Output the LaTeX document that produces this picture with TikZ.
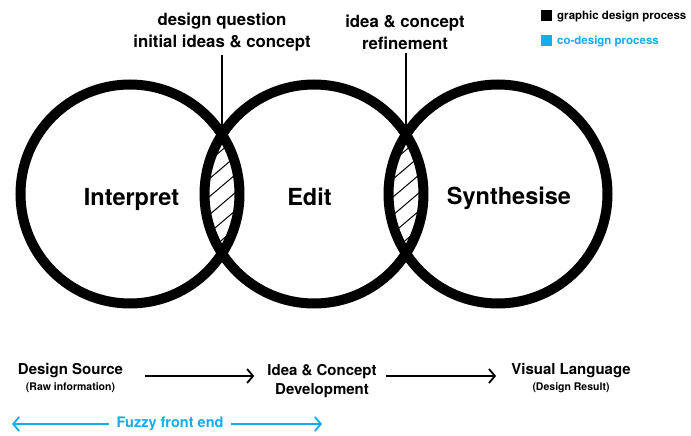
\documentclass[tikz,border=0pt]{standalone}
\usepackage{fontspec}
\setmainfont{TeX Gyre Heros}
\usetikzlibrary{arrows.meta}
\definecolor{codesign}{RGB}{20,172,235}
\newcommand\smalltxt{\fontsize{10.5}{12}\selectfont\bfseries}
\begin{document}
\begin{tikzpicture}[x=1pt,y=-1pt,
  font=\bfseries,
  ring/.style={circle, draw=black, line width=10pt, minimum size=219pt, inner sep=0pt},
  ringlabel/.style={inner sep=0pt, font=\fontsize{23.5}{27}\selectfont\bfseries},
  toplabel/.style={align=center, inner sep=0pt, font=\fontsize{16.8}{22}\selectfont\bfseries},
  stage/.style={align=center, inner sep=0pt, font=\fontsize{15}{19}\selectfont\bfseries},
  leader/.style={line width=1.4pt},
  flow/.style={line width=1.8pt, -{Straight Barb[length=6pt,width=14pt,line width=1.8pt]}},
  hatch/.style={line width=1pt},
  legendtext/.style={anchor=west, inner sep=0pt, font=\fontsize{11.5}{13}\selectfont\bfseries}
]
\useasboundingbox[fill=white] (0,0) rectangle (691,436);

% hatched overlaps between neighbouring circles
\begin{scope}
  \clip (130,194) circle (109.5);
  \clip (314,194) circle (109.5);
  \foreach \c in {132,150,168,186,204,222,240,258,276}
    \draw[hatch] (190,{\c+0.85*32}) -- (254,{\c-0.85*32});
\end{scope}
\begin{scope}
  \clip (314,194) circle (109.5);
  \clip (498,194) circle (109.5);
  \foreach \c in {132,150,168,186,204,222,240,258,276}
    \draw[hatch] (374,{\c+0.85*32}) -- (438,{\c-0.85*32});
\end{scope}

% the three stages
\node[ring] (c1) at (130,194) {};
\node[ring] (c2) at (314,194) {};
\node[ring] (c3) at (498,194) {};
\node[ringlabel] (interpret) at (131.5,199) {Interpret};
\node[ringlabel] (edit) at (309.5,197) {Edit};
\node[ringlabel] (synth) at (509,198) {Synthesise};

% upper crossing points of the circles
\coordinate (x12) at (222,134.6);
\coordinate (x23) at (406,134.6);

% labels above the overlaps
\node[toplabel] (q1) at (222,32.5) {design question\\initial ideas \& concept};
\node[toplabel] (q2) at (405,32.5) {idea \& concept\\refinement};
\draw[leader] (q1.south -| x12) ++(0,3) -- (x12);
\draw[leader] (q2.south -| x23) ++(0,3) -- (x23);

% legend
\node[fill=black, minimum size=11pt, inner sep=0pt] (kblack) at (546,16) {};
\node[legendtext] (lblack) at (557,16) {graphic design process};
\node[fill=codesign, minimum size=11pt, inner sep=0pt] (kblue) at (546,41) {};
\node[legendtext, text=codesign] (lblue) at (557,41) {co-design process};

% process flow
\node[stage] (src) at (70.5,378) {Design Source\\[-3pt]{\smalltxt (Raw information)}};
\node[stage] (dev) at (322,381) {Idea \& Concept\\Development};
\node[stage] (res) at (571,378) {Visual Language\\[-3pt]{\smalltxt (Design Result)}};
\draw[flow, shorten <=22pt, shorten >=13pt] (src.east |- 0,376) -- (dev.west |- 0,376);
\draw[flow, shorten <=9pt, shorten >=15pt] (dev.east |- 0,376) -- (res.west |- 0,376);

% fuzzy front end span
\coordinate (ffl) at (12,424);
\coordinate (ffr) at (322,424);
\draw[codesign, line width=1.8pt,
  {Straight Barb[length=6pt,width=14pt,line width=1.8pt]}-{Straight Barb[length=6pt,width=14pt,line width=1.8pt]}]
  (ffl) -- (ffr) node[pos=0.51, fill=white, inner xsep=8pt, text=codesign,
  font=\fontsize{14.5}{16}\selectfont\bfseries] (fuzzy) {Fuzzy front end};
\end{tikzpicture}
\end{document}
